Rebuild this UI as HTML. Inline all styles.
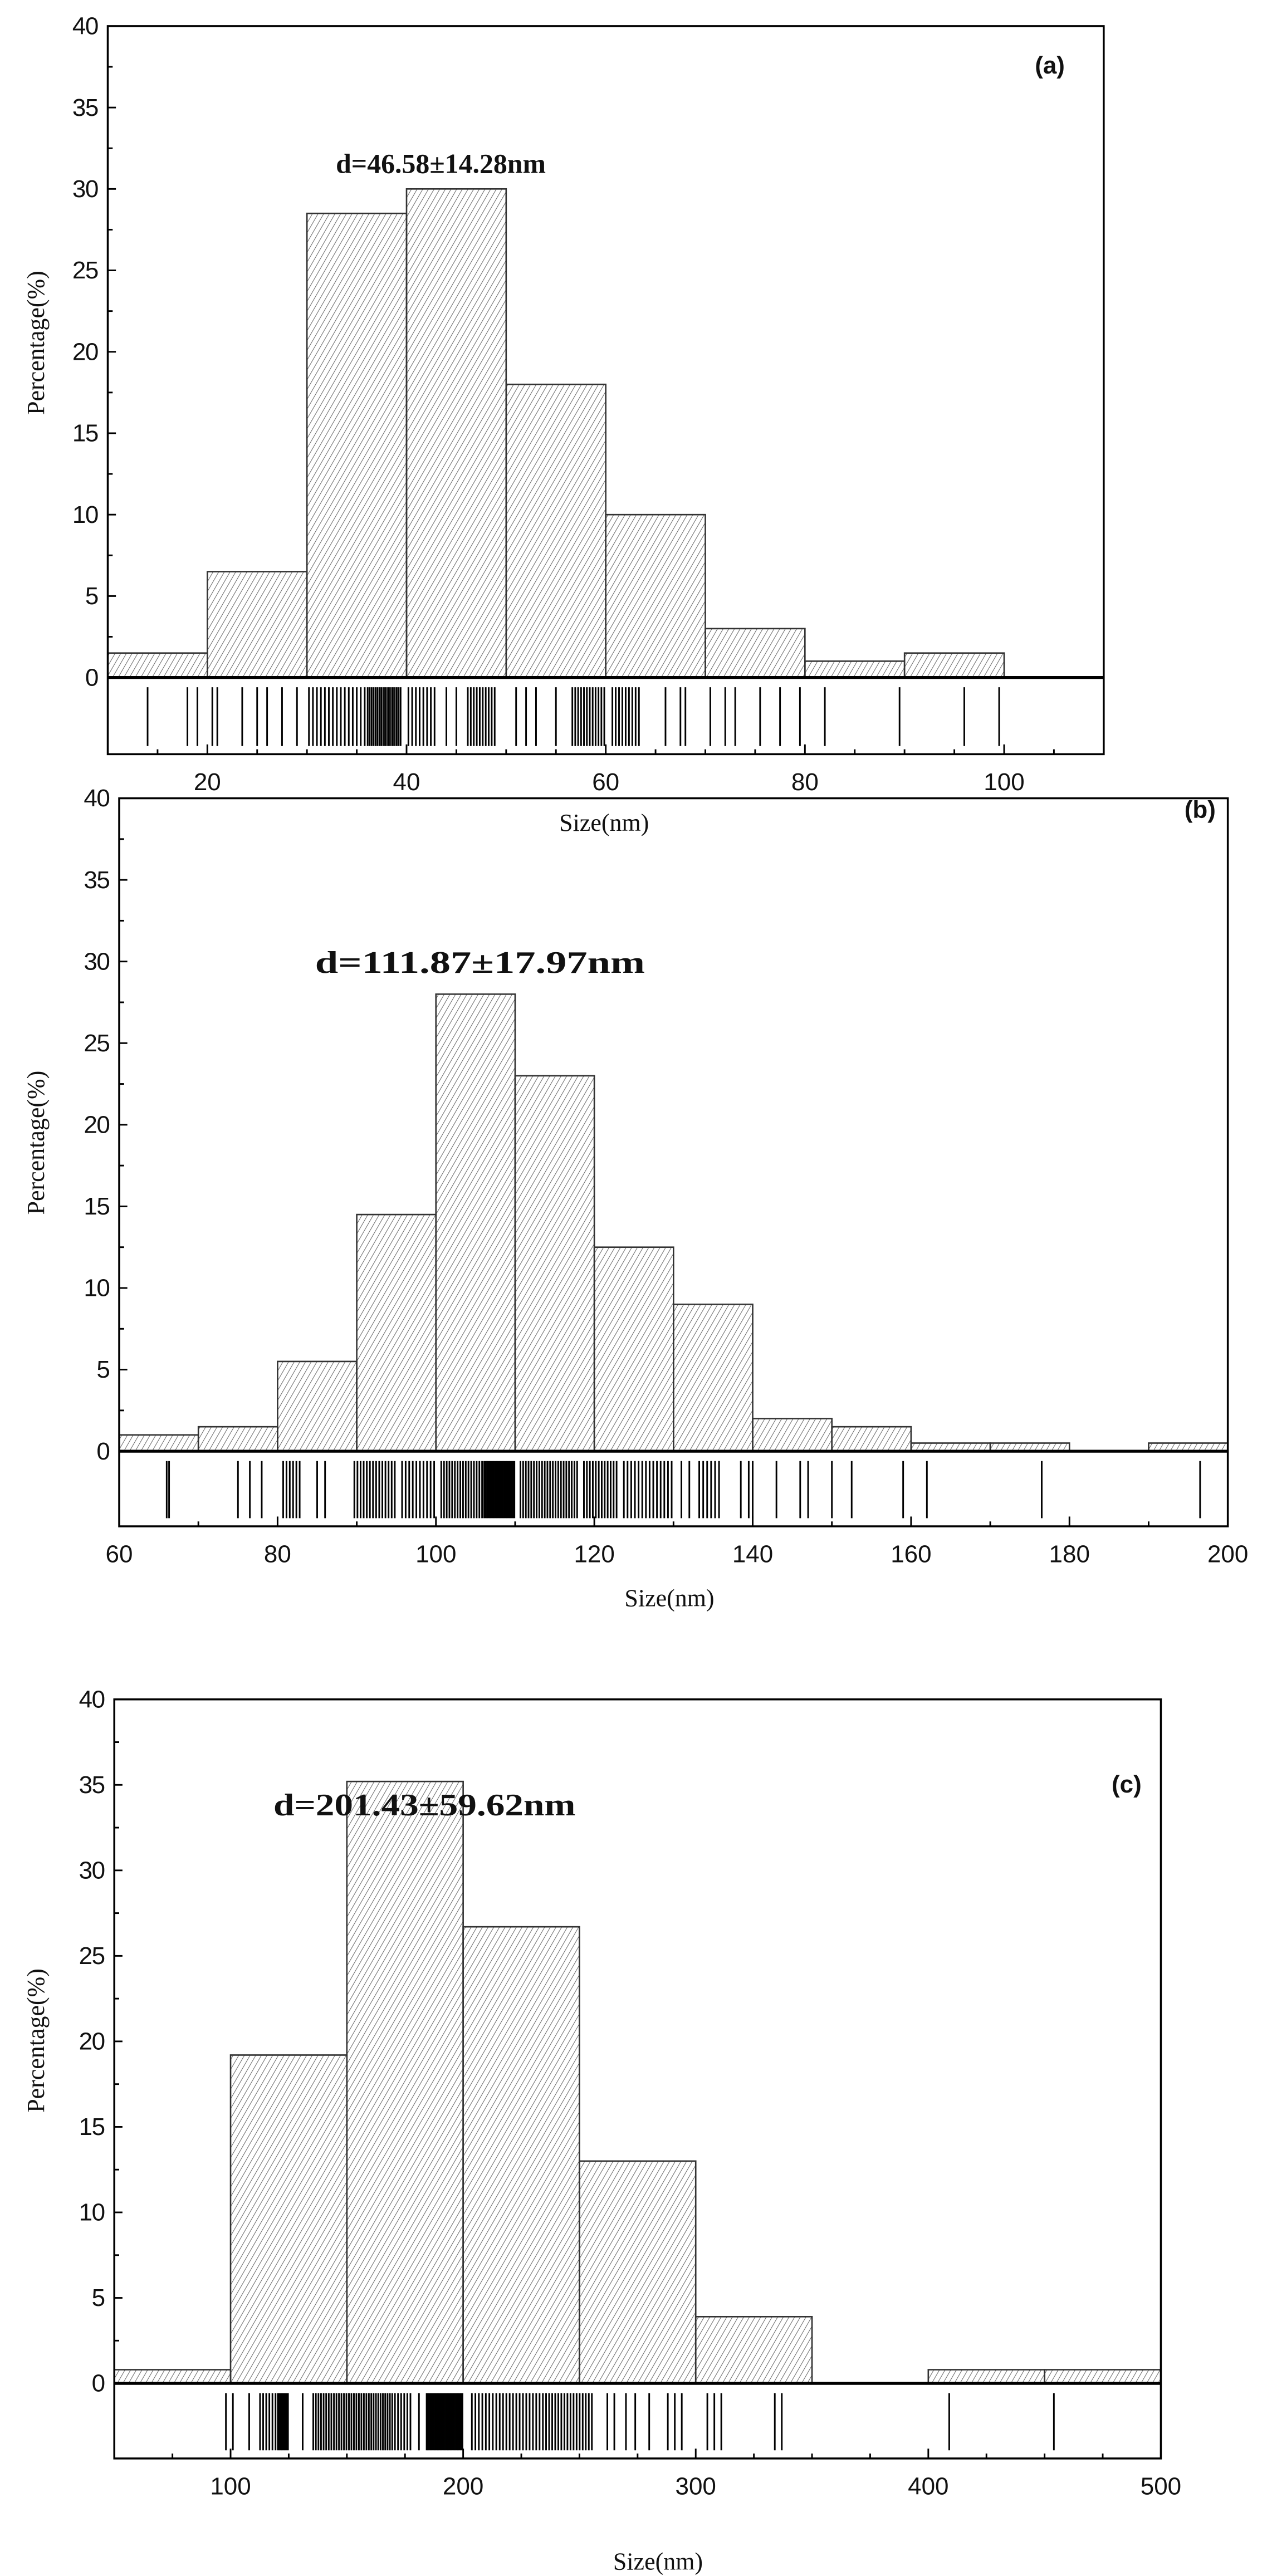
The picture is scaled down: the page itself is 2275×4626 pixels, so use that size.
<!DOCTYPE html>
<html><head><meta charset="utf-8"><style>
html,body{margin:0;padding:0;background:#fff}
svg{display:block}
text{font-family:"Liberation Sans",sans-serif;fill:#111}
.ser{font-family:"Liberation Serif",serif}
</style></head><body>
<svg id="s" width="2275" height="4626" viewBox="0 0 776 1578" preserveAspectRatio="none" xmlns="http://www.w3.org/2000/svg">
<defs>
<pattern id="h" patternUnits="userSpaceOnUse" width="3" height="6" patternTransform="rotate(30)">
<line x1="0" y1="0" x2="0" y2="6" stroke="#666" stroke-width="0.7"/>
</pattern>
</defs>
<g id="g"></g>
</svg>
<script>
var NS="http://www.w3.org/2000/svg",G=document.getElementById('g');
function el(t,a,txt){var e=document.createElementNS(NS,t);for(var k in a)e.setAttribute(k,a[k]);if(txt!=null)e.textContent=txt;G.appendChild(e);return e;}
function seq(a,b,n){var r=[];for(var i=0;i<n;i++)r.push(a+(b-a)*(i+0.5)/n);return r;}
function panel(p){
 var L=p.L,R=p.R,T=p.T,Z=p.Z,B=p.B;
 var X=function(v){return L+(v-p.x0)/(p.x1-p.x0)*(R-L)};
 var Y=function(v){return Z-(v/40)*(Z-T)};
 p.bars.forEach(function(b){
  el('rect',{x:X(b[0]),y:Y(b[2]),width:X(b[1])-X(b[0]),height:Z-Y(b[2]),fill:'url(#h)',stroke:'#333','stroke-width':0.9});
 });
 var rv=[];p.rug.forEach(function(r){if(typeof r==='number')rv.push(r);else rv=rv.concat(seq(r[0],r[1],r[2]));});
 rv.forEach(function(v){var x=X(v);el('line',{x1:x,x2:x,y1:Z+6,y2:B-5,stroke:'#000','stroke-width':1});});
 el('rect',{x:L,y:T,width:R-L,height:B-T,fill:'none',stroke:'#000','stroke-width':1.2});
 el('line',{x1:L,x2:R,y1:Z,y2:Z,stroke:'#000','stroke-width':1.8});
 for(var v=0;v<=40;v+=2.5){var y=Y(v),maj=(v%5==0);
  el('line',{x1:L,x2:L+(maj?5:3),y1:y,y2:y,stroke:'#000','stroke-width':1});
  if(maj)el('text',{x:L-6,y:y+5,'font-size':15,'text-anchor':'end',style:'letter-spacing:-0.5px'},String(v));}
 p.xt.forEach(function(t){var x=X(t[0]);
  el('line',{x1:x,x2:x,y1:B,y2:B-(t[1]?6:3),stroke:'#000','stroke-width':1});
  if(t[1])el('text',{x:x,y:B+p.lbl,'font-size':15,'text-anchor':'middle'},String(t[0]));});
 el('text',{x:p.yl[0],y:p.yl[1],'font-size':15,'text-anchor':'middle','class':'ser',transform:'rotate(-90 '+p.yl[0]+' '+p.yl[1]+')'},'Percentage(%)');
 el('text',{x:p.xl[0],y:p.xl[1],'font-size':15,'text-anchor':'middle','class':'ser'},'Size(nm)');
 var da={x:p.d[0],y:p.d[1],'font-size':p.d[3],'font-weight':'bold','text-anchor':'middle','class':'ser'};
 if(p.d[4]){da.textLength=p.d[4];da.lengthAdjust='spacingAndGlyphs';}
 el('text',da,p.d[2]);
 el('text',{x:p.tag[0],y:p.tag[1],'font-size':15,'font-weight':'bold','text-anchor':'middle'},p.tag[2]);
}
function xt(a,b,step,maj){var r=[];for(var v=a;v<=b+1e-9;v+=step)r.push([v,Math.abs(v/maj-Math.round(v/maj))<1e-6]);return r;}
panel({L:66,R:676,T:16,Z:415,B:462,x0:10,x1:110,lbl:22,
 bars:[[10,20,1.5],[20,30,6.5],[30,40,28.5],[40,50,30],[50,60,18],[60,70,10],[70,80,3],[80,90,1],[90,100,1.5]],
 rug:[14,18,19,20.5,21,23.5,25,26,27.5,29,[30,34,10],[34,36,5],[36,39.5,18],[40,43,8],44,45,[46,49,10],51,52,53,55,[56.5,60,12],[60.5,63.5,9],66,67.5,68,70.5,72,73,75.5,77.5,79.5,82,89.5,96,99.5],
 xt:xt(10,110,5,20).filter(function(t){return t[0]>10&&t[0]<110}).map(function(t){return [t[0],t[0]%20==0]}),
 yl:[27,210],xl:[370,509],d:[270,106,'d=46.58±14.28nm',17],tag:[643,45,'(a)']});
panel({L:73,R:752,T:489,Z:889,B:935,x0:60,x1:200,lbl:22,
 bars:[[60,70,1],[70,80,1.5],[80,90,5.5],[90,100,14.5],[100,110,28],[110,120,23],[120,130,12.5],[130,140,9],[140,150,2],[150,160,1.5],[160,170,0.5],[170,180,0.5],[190,200,0.5]],
 rug:[66,66.3,75,76.5,78,[80.5,83,6],85,86,[89.5,95,14],[95.5,100,10],[100.5,106,16],[106,110,22],[110.5,118,22],[118.5,123,12],[123.5,130,14],131,132,[133,136,6],138.5,139.5,140,143,146,147,150,152.5,159,162,176.5,196.5],
 xt:xt(60,200,10,20).filter(function(t){return t[0]>60&&t[0]<200}).map(function(t){return [t[0],t[0]%20==0]}).concat([[60,true],[200,true]]),
 yl:[27,700],xl:[410,984],d:[294,596,'d=111.87±17.97nm',19,202],tag:[735,501,'(b)']});
panel({L:70,R:711,T:1041,Z:1460,B:1506,x0:50,x1:500,lbl:22,
 bars:[[50,100,0.8],[100,150,19.2],[150,200,35.2],[200,250,26.7],[250,300,13],[300,350,3.9],[400,450,0.8],[450,500,0.8]],
 rug:[98,101,108,[112,120,6],[120,125,8],131,[135,145,9],[145,160,14],[160,170,10],[170,178,6],181,[184,200,26],[203,215,8],[215,235,14],[235,256,16],262,265,270,274,280,288,291,294,305,308,311,334,337,409,454],
 xt:xt(50,500,25,100).filter(function(t){return t[0]>50&&t[0]<500}).map(function(t){return [t[0],t[0]%100==0]}).concat([[500,true]]),
 yl:[27,1250],xl:[403,1574],d:[260,1112,'d=201.43±59.62nm',19,185],tag:[690,1098,'(c)']});
</script>
</body></html>
